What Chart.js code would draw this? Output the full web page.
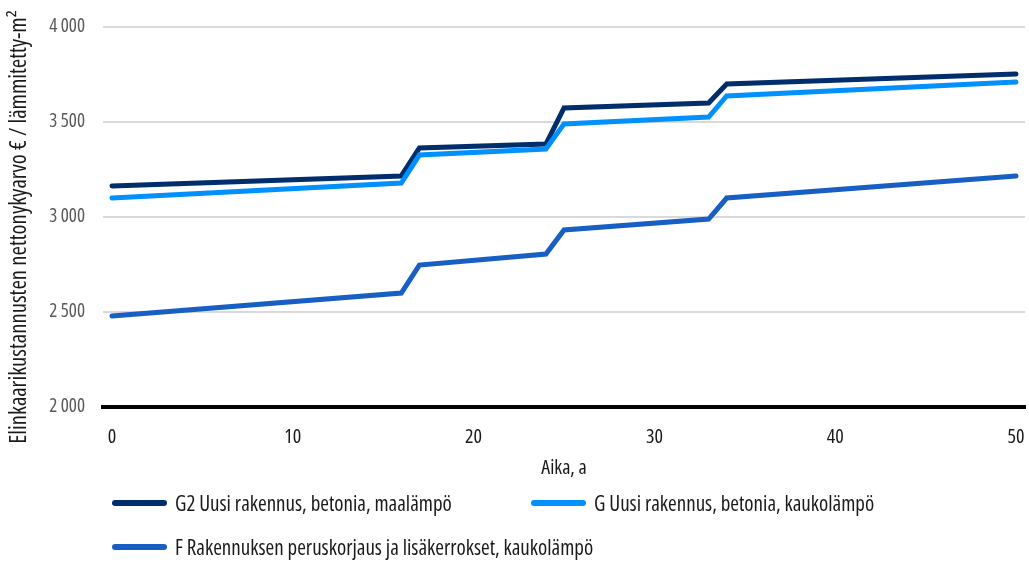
<!DOCTYPE html>
<html lang="fi">
<head>
<meta charset="utf-8">
<title>Elinkaarikustannusten nettonykyarvo</title>
<script src="https://cdn.jsdelivr.net/npm/chart.js@4/dist/chart.umd.min.js"></script>
<style>
  html, body { margin: 0; padding: 0; background: #fff; }
  #wrap { position: relative; width: 1029px; height: 562px; }
  #chart { position: absolute; left: 0; top: 0; }
  .legend-item { position: absolute; display: flex; align-items: center;
    font-family: "Open Sans", sans-serif; font-stretch: condensed;
    font-size: 21px; color: #1a1a1a; white-space: nowrap; height: 24px; }
  .legend-swatch { width: 55px; height: 6px; border-radius: 3px; margin-right: 8px; flex: none; }
</style>
</head>
<body>
<div id="wrap">
  <canvas id="chart" width="1029" height="562"></canvas>
</div>
<script>
// Years at which the series change slope (step years around renovations)
const years = [0, 16, 17, 24, 25, 33, 34, 50];

const seriesNames = [
  'G2 Uusi rakennus, betonia, maalämpö',
  'G Uusi rakennus, betonia, kaukolämpö',
  'F Rakennuksen peruskorjaus ja lisäkerrokset, kaukolämpö'
];

// Net present value of life-cycle costs, € / heated m²
const g2Values = [3163, 3216, 3363, 3384, 3574, 3600, 3700, 3753];
const gValues  = [3100, 3179, 3326, 3358, 3490, 3526, 3637, 3711];
const fValues  = [2479, 2600, 2747, 2805, 2932, 2989, 3100, 3216];

const seriesColors = ['#002D6B', '#0091FF', '#175FC2'];

const xTicks = [0, 10, 20, 30, 40, 50];
const yTicks = [2000, 2500, 3000, 3500, 4000];

const yTitle = 'Elinkaarikustannusten nettonykyarvo € / lämmitetty-m²';
const xTitle = 'Aika, a';

// Open Sans in its condensed width ("condensed" lands in the canvas font string)
const fontFamily = '"Open Sans", sans-serif';
const condensed = (size) => ({ family: fontFamily, size: size, weight: 'condensed' });

function toPoints(vals) {
  return years.map((y, i) => ({ x: y, y: vals[i] }));
}

function fmt(v) {
  return String(v).replace(/\B(?=(\d{3})+(?!\d))/g, ' ');
}

const allValues = [g2Values, gValues, fValues];

const datasets = allValues.map((vals, i) => ({
  label: seriesNames[i],
  data: toPoints(vals),
  borderColor: seriesColors[i],
  backgroundColor: seriesColors[i],
  borderWidth: 5,
  borderCapStyle: 'round',
  borderJoinStyle: 'miter',
  pointRadius: 0,
  showLine: true,
  tension: 0,
  fill: false
}));

// Vertical axis title, drawn a little below the plot's centre line
const yTitlePlugin = {
  id: 'yTitle',
  afterDraw(chart) {
    const { ctx, chartArea } = chart;
    ctx.save();
    ctx.translate(19.5, (chartArea.top + chartArea.bottom) / 2 + 10);
    ctx.rotate(-Math.PI / 2);
    ctx.font = 'condensed 22.8px "Open Sans", sans-serif';
    ctx.fillStyle = '#1a1a1a';
    ctx.textAlign = 'center';
    ctx.textBaseline = 'middle';
    ctx.fillText(yTitle, 0, 0);
    ctx.restore();
  }
};

new Chart(document.getElementById('chart'), {
  type: 'scatter',
  data: { datasets: datasets.slice().reverse() },
  plugins: [yTitlePlugin],
  options: {
    responsive: false,
    animation: false,
    layout: { padding: { top: 27, right: 4, bottom: 82, left: 0 } },
    plugins: {
      legend: { display: false },
      tooltip: { enabled: false }
    },
    scales: {
      x: {
        type: 'linear',
        min: -0.5,
        max: 50.5,
        afterBuildTicks: (scale) => { scale.ticks = xTicks.map(v => ({ value: v })); },
        afterFit: (scale) => {
          scale.height = 73;
          scale.paddingLeft = 0;
          scale.paddingRight = 0;
        },
        grid: { display: false, drawTicks: false },
        border: { display: true, color: '#000', width: 4 },
        ticks: {
          color: '#1a1a1a',
          padding: 18,
          maxRotation: 0,
          font: condensed(20),
          callback: (v) => String(v)
        },
        title: {
          display: true,
          text: xTitle,
          color: '#1a1a1a',
          font: condensed(20),
          padding: { top: 4, bottom: 0 }
        }
      },
      y: {
        min: 2000,
        max: 4000,
        afterBuildTicks: (scale) => { scale.ticks = yTicks.map(v => ({ value: v })); },
        afterFit: (scale) => {
          scale.width = 103;
          scale.paddingTop = 0;
          scale.paddingBottom = 0;
        },
        grid: { color: '#d9d9d9', lineWidth: 2, drawTicks: false },
        border: { display: false },
        ticks: {
          color: '#595959',
          padding: 18,
          font: condensed(19),
          callback: (v) => fmt(v)
        },
        title: { display: false }
      }
    }
  }
});

// Legend laid out in two rows beneath the axis title
const legendSlots = [
  { left: 112, top: 491 },
  { left: 531, top: 491 },
  { left: 112, top: 535 }
];
const wrap = document.getElementById('wrap');
seriesNames.forEach((name, i) => {
  const item = document.createElement('div');
  item.className = 'legend-item';
  item.style.left = legendSlots[i].left + 'px';
  item.style.top = legendSlots[i].top + 'px';
  const sw = document.createElement('span');
  sw.className = 'legend-swatch';
  sw.style.background = seriesColors[i];
  const tx = document.createElement('span');
  tx.textContent = name;
  item.appendChild(sw);
  item.appendChild(tx);
  wrap.appendChild(item);
});
</script>
</body>
</html>
